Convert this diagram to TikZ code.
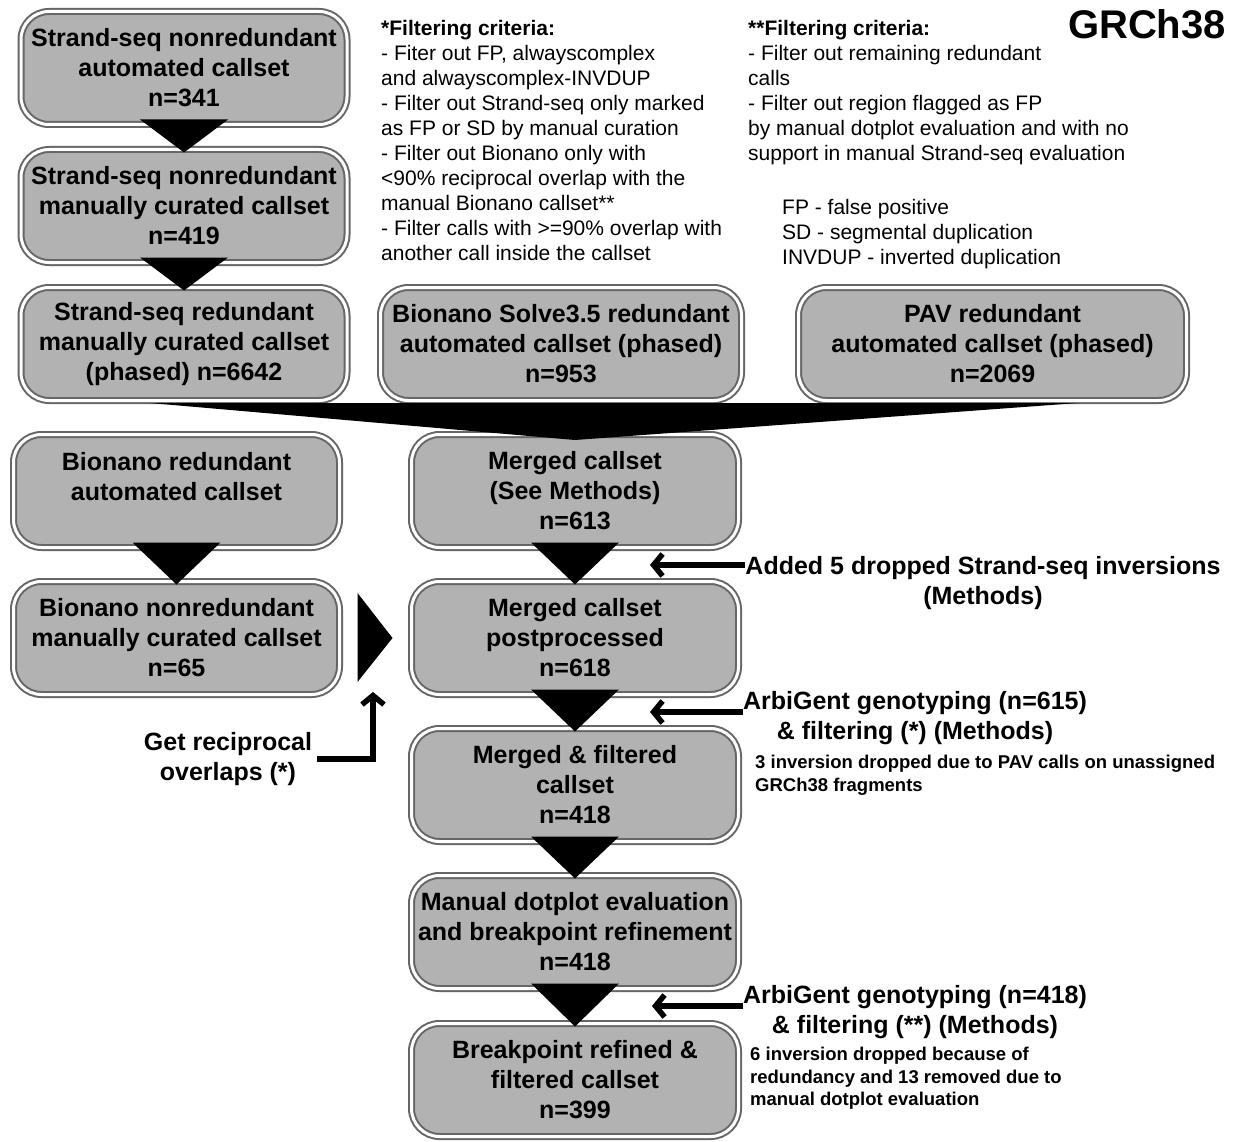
\documentclass[tikz,border=0pt]{standalone}
\usepackage{fontspec}
\setmainfont{Liberation Sans}
\usetikzlibrary{calc,arrows.meta}
\begin{document}
\begin{tikzpicture}[x=1pt,y=-1pt,
    box/.style={draw=black!60,line width=2pt,double=white,double distance=3pt,
      fill=black!30,rounded corners=28pt,align=center,inner sep=0pt,
      minimum height=113pt,font=\fontsize{25}{30}\selectfont\bfseries},
    side/.style={align=center,inner sep=0pt,font=\fontsize{25}{30}\selectfont\bfseries},
    note/.style={align=left,inner sep=0pt,font=\fontsize{18.5}{22.5}\selectfont\bfseries},
    crit/.style={align=left,inner sep=0pt,font=\fontsize{21}{25}\selectfont},
    arr/.style={line width=5.5pt,-{Straight Barb[length=9pt,width=22pt]}}]
  \useasboundingbox[fill=white] (0,0) rectangle (1234,1142);
  % boxes
  \node[box,minimum width=326pt] (A1) at (184,68)
    {Strand-seq nonredundant\\automated callset\\n=341};
  \node[box,minimum width=326pt] (A2) at (184,206)
    {Strand-seq nonredundant\\manually curated callset\\n=419};
  \node[box,minimum width=326pt] (A3) at (184,344)
    {Strand-seq redundant\\manually curated callset\\(phased) n=6642};
  \node[box,minimum width=361pt] (B) at (561,344)
    {Bionano Solve3.5 redundant\\automated callset (phased)\\n=953};
  \node[box,minimum width=388pt] (C) at (992.5,344)
    {PAV redundant\\automated callset (phased)\\n=2069};
  \node[box,minimum width=326pt] (D) at (176.5,491)
    {Bionano redundant\\automated callset\\~};
  \node[box,minimum width=327pt] (E) at (575,491)
    {Merged callset\\(See Methods)\\n=613};
  \node[box,minimum width=326pt] (F) at (176.5,638)
    {Bionano nonredundant\\manually curated callset\\n=65};
  \node[box,minimum width=327pt] (G) at (575,638)
    {Merged callset\\postprocessed\\n=618};
  \node[box,minimum width=327pt] (H) at (575,785)
    {Merged \& filtered\\callset\\n=418};
  \node[box,minimum width=327pt] (I) at (575,932)
    {Manual dotplot evaluation\\and breakpoint refinement\\n=418};
  \node[box,minimum width=327pt] (J) at (575,1080)
    {Breakpoint refined \&\\filtered callset\\n=399};
  % flow triangles
  \foreach \a/\b in {A1/A2,A2/A3,D/F,E/G,G/H,H/I,I/J}
    \fill ($(\a.south)+(-44,-6)$) -- ($(\a.south)+(44,-6)$) -- ($(\b.north)+(0,4)$) -- cycle;
  \fill ($(A3.south)+(-34,1.5)$) -- ($(C.south)+(85.5,1.5)$) -- ($(E.north)+(0,6.5)$) -- cycle;
  \fill ($(F.east)+(17,-45)$) -- ($(F.east)+(17,44)$) -- ($(G.west)+(-18,0)$) -- cycle;
  % texts
  \node[anchor=base east,inner sep=0pt,font=\fontsize{40}{48}\selectfont\bfseries] (title)
    at (1226,39) {GRCh38};
  \node[crit,anchor=north west] (crit1) at (381,20)
    {\textbf{*Filtering criteria:}\\- Fiter out FP, alwayscomplex\\and alwayscomplex-INVDUP\\
     - Filter out Strand-seq only marked\\as FP or SD by manual curation\\
     - Filter out Bionano only with\\<90\% reciprocal overlap with the\\manual Bionano callset**\\
     - Filter calls with >=90\% overlap with\\another call inside the callset};
  \node[crit,anchor=north west] (crit2) at (748,20)
    {\textbf{**Filtering criteria:}\\- Filter out remaining redundant\\calls\\
     - Filter out region flagged as FP\\by manual dotplot evaluation and with no\\
     support in manual Strand-seq evaluation};
  \node[crit,anchor=north west] (abbr) at (782,199)
    {FP - false positive\\SD - segmental duplication\\INVDUP - inverted duplication};
  \node[side,anchor=north] (add) at (983,556)
    {Added 5 dropped Strand-seq inversions\\(Methods)};
  \node[side,anchor=north] (arbA) at (915,691)
    {ArbiGent genotyping (n=615)\\\& filtering (*) (Methods)};
  \node[note,anchor=north west] (noteA) at (755,755)
    {3 inversion dropped due to PAV calls on unassigned\\GRCh38 fragments};
  \node[side,anchor=north] (arbB) at (915,985)
    {ArbiGent genotyping (n=418)\\\& filtering (**) (Methods)};
  \node[note,anchor=north west] (noteB) at (750,1047)
    {6 inversion dropped because of\\redundancy and 13 removed due to\\manual dotplot evaluation};
  \node[side,anchor=north] (rec) at (228,732) {Get reciprocal\\overlaps (*)};
  % arrows
  \coordinate (addtip) at (650,565); \coordinate (arbtipA) at (650,712);
  \coordinate (arbtipB) at (652,1006); \coordinate (rectip) at (373,692);
  \draw[arr] (add.west |- addtip) -- (addtip);
  \draw[arr] (arbA.west |- arbtipA) -- (arbtipA);
  \draw[arr] (arbB.west |- arbtipB) -- (arbtipB);
  \draw[arr] ([xshift=5pt]rec.east) -| (rectip);
\end{tikzpicture}
\end{document}
